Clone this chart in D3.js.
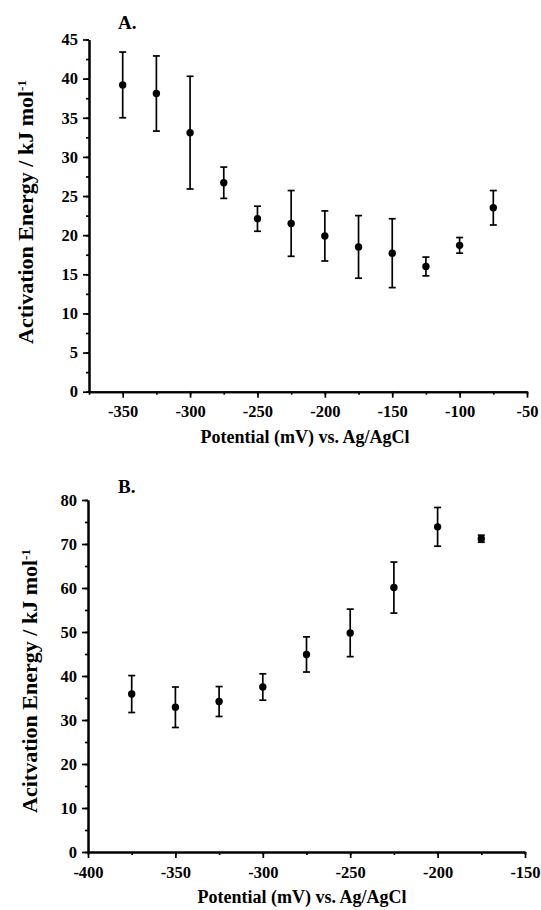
<!DOCTYPE html>
<html>
<head>
<meta charset="utf-8">
<script src="https://cdn.jsdelivr.net/npm/d3@7"></script>
<style>
  body { margin: 0; background: #fff; }
  text { font-family: "Liberation Serif", "Times New Roman", serif; font-weight: bold; fill: #000; }
</style>
</head>
<body>
<div id="viz"></div>
<script>
// panel A
var potentialA = [-350, -325, -300, -275, -250, -225, -200, -175, -150, -125, -100, -75];
var energyA    = [39.2, 38.1, 33.1, 26.7, 22.1, 21.5, 19.9, 18.5, 17.7, 16.0, 18.7, 23.5];
var errorA     = [4.2, 4.8, 7.2, 2.0, 1.6, 4.2, 3.2, 4.0, 4.4, 1.2, 1.0, 2.2];

// panel B
var potentialB = [-375, -350, -325, -300, -275, -250, -225, -200, -175];
var energyB    = [35.9, 32.9, 34.2, 37.5, 44.9, 49.8, 60.1, 73.9, 71.2];
var errorB     = [4.2, 4.6, 3.4, 3.0, 4.0, 5.4, 5.8, 4.4, 0.8];

var width = 541,
    height = 910;

var svg = d3.select("#viz").append("svg")
    .attr("width", width)
    .attr("height", height);

function panel(opt) {
  var x = d3.scaleLinear().domain(opt.xDomain).range(opt.xRange);
  var y = d3.scaleLinear().domain(opt.yDomain).range(opt.yRange);
  var g = svg.append("g");
  var x0 = opt.xRange[0], y0 = opt.yRange[0];

  // minor ticks first
  g.append("g")
      .attr("transform", "translate(0," + y0 + ")")
      .call(d3.axisBottom(x).tickValues(d3.range(opt.xDomain[0], opt.xDomain[1] + 1, opt.xMinor))
        .tickSize(3).tickSizeOuter(0).tickFormat(""))
      .call(styleAxis);
  g.append("g")
      .attr("transform", "translate(" + x0 + ",0)")
      .call(d3.axisLeft(y).tickValues(d3.range(opt.yDomain[0], opt.yDomain[1] + 0.01, opt.yMinor))
        .tickSize(3).tickSizeOuter(0).tickFormat(""))
      .call(styleAxis);

  // major ticks with labels
  g.append("g")
      .attr("transform", "translate(0," + y0 + ")")
      .call(d3.axisBottom(x).tickValues(opt.xTicks).tickSize(6).tickPadding(8)
        .tickSizeOuter(0).tickFormat(function(d) { return d; }))
      .call(styleAxis);
  g.append("g")
      .attr("transform", "translate(" + x0 + ",0)")
      .call(d3.axisLeft(y).tickValues(opt.yTicks).tickSize(6).tickPadding(5)
        .tickSizeOuter(0).tickFormat(function(d) { return d; }))
      .call(styleAxis);

  // error bars
  var eb = g.selectAll("g.err")
      .data(opt.xs.map(function(d, i) { return {x: d, y: opt.ys[i], e: opt.es[i]}; }))
    .enter().append("g")
      .attr("class", "err")
      .attr("stroke", "#000")
      .attr("stroke-width", 1.7);
  eb.append("line")
      .attr("x1", function(d) { return x(d.x); })
      .attr("x2", function(d) { return x(d.x); })
      .attr("y1", function(d) { return y(d.y - d.e); })
      .attr("y2", function(d) { return y(d.y + d.e); });
  eb.append("line")
      .attr("x1", function(d) { return x(d.x) - 3.5; })
      .attr("x2", function(d) { return x(d.x) + 3.5; })
      .attr("y1", function(d) { return y(d.y + d.e); })
      .attr("y2", function(d) { return y(d.y + d.e); });
  eb.append("line")
      .attr("x1", function(d) { return x(d.x) - 3.5; })
      .attr("x2", function(d) { return x(d.x) + 3.5; })
      .attr("y1", function(d) { return y(d.y - d.e); })
      .attr("y2", function(d) { return y(d.y - d.e); });
  eb.append("circle")
      .attr("cx", function(d) { return x(d.x); })
      .attr("cy", function(d) { return y(d.y); })
      .attr("r", 3.7)
      .attr("fill", "#000")
      .attr("stroke", "none");

  // labels
  g.append("text")
      .attr("x", 118).attr("y", opt.letterY)
      .style("font-size", "19px")
      .text(opt.letter);

  g.append("text")
      .attr("x", opt.xTitleX).attr("y", y0 + 51)
      .attr("text-anchor", "middle")
      .style("font-size", "18px")
      .text("Potential (mV) vs. Ag/AgCl");

  var yl = g.append("text")
      .attr("transform", "translate(" + opt.yTitleX + "," + opt.yTitleY + ") rotate(-90)")
      .attr("text-anchor", "middle")
      .style("font-size", "22px");
  yl.append("tspan").text(opt.yTitle);
  yl.append("tspan").attr("dy", "-0.55em").style("font-size", "13px").text("-1");
}

function styleAxis(sel) {
  sel.select(".domain").attr("stroke-width", 2);
  sel.selectAll(".tick line").attr("stroke-width", 1.7);
  sel.selectAll(".tick text")
      .style("font-size", "16.5px")
      .style("font-family", "'Liberation Serif', 'Times New Roman', serif")
      .style("font-weight", "bold");
}

panel({
  xs: potentialA, ys: energyA, es: errorA,
  xDomain: [-375, -50], xRange: [89, 527],
  yDomain: [0, 45], yRange: [391.7, 39.5],
  xTicks: [-350, -300, -250, -200, -150, -100, -50], xMinor: 25,
  yTicks: [0, 5, 10, 15, 20, 25, 30, 35, 40, 45], yMinor: 2.5,
  letter: "A.", letterY: 29,
  xTitleX: 305, yTitleX: 33, yTitleY: 212,
  yTitle: "Activation Energy / kJ mol"
});

panel({
  xs: potentialB, ys: energyB, es: errorB,
  xDomain: [-400, -150], xRange: [88, 525],
  yDomain: [0, 80], yRange: [852, 500],
  xTicks: [-400, -350, -300, -250, -200, -150], xMinor: 25,
  yTicks: [0, 10, 20, 30, 40, 50, 60, 70, 80], yMinor: 5,
  letter: "B.", letterY: 493,
  xTitleX: 302, yTitleX: 37, yTitleY: 681,
  yTitle: "Acitvation Energy / kJ mol"
});
</script>
</body>
</html>
